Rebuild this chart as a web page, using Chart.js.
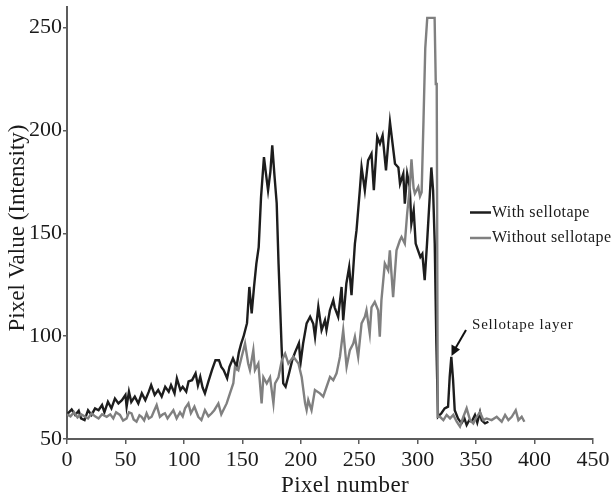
<!DOCTYPE html>
<html>
<head>
<meta charset="utf-8">
<script src="https://cdn.jsdelivr.net/npm/chart.js@4"></script>
<style>
  body { margin: 0; background: #fff; }
  #wrap { width: 612px; height: 499px; }
</style>
</head>
<body>
<div id="wrap"><canvas id="profile_chart" width="612" height="499"></canvas></div>
<script>
// Line profile readings (pixel number vs. intensity)
var withX = [0, 1, 4, 7, 10, 12, 15, 18, 21, 24, 27, 30, 32, 35, 38, 41, 44, 47, 50, 51, 53, 55, 58, 61, 64, 67, 70, 72, 75, 78,
    81, 84, 87, 89, 92, 94, 97, 99, 102, 104, 107, 110, 112, 114, 116, 118, 121, 124, 127, 130, 132, 134, 137, 139, 142, 145, 147, 149, 151, 154,
    156, 158, 160, 162, 164, 166, 168.5, 170, 172, 174, 175.6, 177.5, 179.4, 181, 183.6, 185, 187, 190, 192.7, 195, 198.4, 199.8, 202, 205, 208, 210.7, 212.2, 215, 217.8, 220.7,
    222, 224.9, 227.8, 229, 232, 234.9, 236.3, 239, 241.4, 243.4, 246.3, 247.7, 250.5, 252, 254.8, 257.6, 260.5, 262.5, 265.4, 267.7, 270, 272.9, 276.3, 280.6, 283.5, 284.9, 287.7, 289, 291, 293.2,
    294.6, 296.6, 298.3, 300.3, 302.3, 304, 306, 308, 310.3, 311.7, 313.2, 314.6, 316, 317.4, 320.3, 323.1, 326, 327.4, 328.8, 330.3, 331.7, 334.5, 337.5, 340, 341.9, 344, 346.2, 349, 351, 353.3,
    354.8, 357.6, 360.5];
var withY = [61.5, 62.5, 64.4, 61.7, 63.7, 60, 59.2, 64, 61.7, 64.9, 64, 66.5, 63, 68.1, 64.9, 69.7, 67.3, 68.9, 71.4, 65.7, 73, 68, 70.6, 67.3, 72.2, 68.9, 73, 76.2, 71.4, 73.8,
    70.6, 75.4, 73, 76.2, 72.2, 79.5, 73.8, 75.4, 73, 78, 78.6, 81.9, 76, 80.2, 75, 72.2, 78, 83.5, 88.3, 88.3, 85, 83.5, 79.5, 85.1, 89.2, 85, 92, 96.4, 99.7, 106.3,
    123.9, 111, 124, 135.3, 143.3, 167.6, 187, 180, 170.9, 180, 192.7, 178, 164.6, 135, 94.8, 77, 75.4, 82, 88.3, 92, 96.6, 86.9, 96.4, 106.2, 109.4, 106, 99.7, 114.2, 102.9, 107.7,
    103, 112.6, 117.5, 114, 109.4, 123.9, 107.7, 125.6, 133.6, 119.9, 145, 151.5, 170.9, 182.2, 170.9, 185.4, 188.7, 171, 196.8, 193.5, 197.6, 180.6, 204, 183.8, 182, 174, 179, 164.4, 179, 172.5,
    154.7, 161.2, 145, 141.7, 138.5, 140, 127.2, 145, 167.6, 182, 170.9, 145, 96.4, 60.8, 62.5, 64.9, 65.7, 80.2, 89.9, 78.6, 64, 60, 57.6, 60, 56.8, 59, 58.4, 61.7, 58, 63,
    59, 57.6, 58.4];

var withoutX = [0, 3, 6, 9, 12, 15, 18, 21, 24, 27, 30, 34, 37, 39.6, 42, 45.3, 48, 51, 53, 55.2, 57, 59.5, 62, 63.8, 66, 68.1, 70, 72.4, 74, 76.7,
    79.5, 82, 83.8, 86, 88.1, 91, 93.8, 96.7, 99, 101, 103.9, 106, 109, 112.3, 115, 118, 121, 123.8, 126, 129.5, 132, 133.7, 136.6, 139.4, 142.3, 143.7, 146.6, 149.4, 152.3, 155,
    156.5, 159.4, 160.8, 163.7, 166.5, 168, 170.9, 173.7, 176.6, 178, 180.9, 183.8, 186.6, 189.4, 193.7, 198, 200.8, 203.7, 205, 206.4, 209.2, 212.1, 216.4, 219.2, 222.1, 225, 227.8, 230.6, 233.5, 236.3,
    239.2, 242, 244.9, 246.3, 249.1, 252, 254.8, 256.2, 259, 260.5, 263.3, 266.2, 267.6, 269, 271.9, 274.8, 276.2, 279, 281.9, 284.8, 286.2, 289, 291, 293.3, 294.7, 296.5, 297.6, 300.5, 302, 303.4,
    305, 306.5, 308.2, 314.5, 315.5, 316.3, 317.2, 319.1, 322, 324.8, 327.7, 330.5, 333.4, 336.2, 339.1, 341.9, 344.8, 347.6, 350.5, 353.3, 356.2, 359, 363.3, 367.6, 371.9, 374.8, 377.6, 380.5, 383.9, 386.2,
    389, 391.3];
var withoutY = [62, 61, 63, 60.5, 62, 61, 60, 62.5, 61, 60, 62, 60.8, 62, 60, 63, 61.7, 59, 60, 63, 62.5, 59.5, 58.4, 61.5, 60.8, 59, 62.5, 60, 60.8, 63, 66.5,
    60.8, 62, 62.5, 60, 61.7, 64, 60, 63, 61, 64.9, 67.3, 62.5, 65.7, 60.8, 59.2, 64, 61, 62.5, 64, 67.3, 62, 64, 67.3, 72.2, 77.1, 85.1, 83.5, 89.9, 96.4, 86.7,
    83.5, 93.2, 83.5, 86.7, 67.3, 80, 77, 80, 67.3, 77, 80, 88.3, 91.5, 86.7, 90, 86.7, 80, 67.3, 64.1, 68.9, 64, 73.8, 72.2, 70.6, 75.4, 80.2, 78.6, 81.9, 89.9, 102.9,
    85.1, 93.2, 96.4, 99.7, 89.9, 106.2, 109.4, 112.6, 101.3, 114, 116.6, 112.6, 99.7, 117.5, 135.3, 132, 141.7, 119, 141.7, 146.6, 148.2, 145, 159.5, 172.5, 186, 172, 169.3, 172.5, 168, 170,
    205, 240, 254.7, 254.7, 222.6, 222.6, 60.8, 60.8, 59.2, 61.7, 60, 61.7, 58.4, 56, 60.8, 64.9, 59.2, 57.6, 60.8, 63, 59.2, 60, 59.2, 60.8, 58.4, 61.7, 59.2, 60.8, 64, 59.2,
    60.8, 58.4];

var xTicks = [0, 50, 100, 150, 200, 250, 300, 350, 400, 450];
var yTicks = [50, 100, 150, 200, 250];
var seriesNames = ['With sellotape', 'Without sellotape'];

var serif = '"Liberation Serif", "Times New Roman", serif';
var darkColor = '#1d1d1d';
var greyColor = '#808080';
var axisColor = '#5c5c5c';

function toPoints(xs, ys) {
    return xs.map(function (x, i) { return { x: x, y: ys[i] }; });
}

// legend, annotation arrow and axis titles drawn on top
var extrasPlugin = {
    id: 'extras',
    afterDraw: function (chart) {
        var ctx = chart.ctx;
        ctx.save();
        // legend
        var colors = [darkColor, greyColor];
        var rows = [212.5, 238];
        ctx.font = '16px ' + serif;
        ctx.letterSpacing = '0.4px';
        ctx.textBaseline = 'middle';
        ctx.textAlign = 'left';
        for (var i = 0; i < 2; i++) {
            ctx.strokeStyle = colors[i];
            ctx.lineWidth = 2.5;
            ctx.beginPath();
            ctx.moveTo(470, rows[i]);
            ctx.lineTo(491, rows[i]);
            ctx.stroke();
            ctx.fillStyle = '#1a1a1a';
            ctx.fillText(seriesNames[i], 492, rows[i]);
        }
        // annotation
        ctx.font = '15px ' + serif;
        ctx.letterSpacing = '0.8px';
        ctx.fillStyle = '#1a1a1a';
        ctx.fillText('Sellotape layer', 472, 325);
        ctx.strokeStyle = '#111';
        ctx.lineWidth = 2;
        ctx.beginPath();
        ctx.moveTo(466, 330);
        ctx.lineTo(455, 349);
        ctx.stroke();
        ctx.fillStyle = '#111';
        ctx.beginPath();
        ctx.moveTo(451.5, 356);
        ctx.lineTo(451.5, 344.5);
        ctx.lineTo(460, 349.5);
        ctx.closePath();
        ctx.fill();
        // axis titles
        ctx.font = '23px ' + serif;
        ctx.letterSpacing = '0.4px';
        ctx.fillStyle = '#1a1a1a';
        ctx.textAlign = 'center';
        ctx.fillText('Pixel number', 345, 486);
        ctx.letterSpacing = '0px';
        ctx.translate(18, 228);
        ctx.rotate(-Math.PI / 2);
        ctx.fillText('Pixel Value (Intensity)', 0, 0);
        ctx.restore();
    }
};

var profile_ctx = document.getElementById('profile_chart');

var profile_chart = new Chart(profile_ctx, {
    type: 'line',
    data: {
        datasets: [{
            label: seriesNames[0],
            data: toPoints(withX, withY),
            borderColor: darkColor,
            borderWidth: 2.4,
            pointRadius: 0,
            tension: 0,
            order: 2
        }, {
            label: seriesNames[1],
            data: toPoints(withoutX, withoutY),
            borderColor: greyColor,
            borderWidth: 2.4,
            pointRadius: 0,
            tension: 0,
            order: 1
        }]
    },
    options: {
        responsive: false,
        animation: false,
        layout: { padding: { top: 7, right: 19, left: 0, bottom: 0 } },
        plugins: {
            legend: { display: false },
            tooltip: { enabled: false }
        },
        scales: {
            x: {
                type: 'linear',
                min: 0,
                max: 450,
                afterBuildTicks: function (scale) {
                    scale.ticks = xTicks.map(function (v) { return { value: v }; });
                },
                afterFit: function (scale) {
                    scale.height = 60;
                    scale.paddingLeft = 0;
                    scale.paddingRight = 0;
                },
                border: { color: axisColor, width: 2 },
                grid: { drawOnChartArea: false, color: axisColor, tickLength: 5, lineWidth: 1.5 },
                ticks: { color: '#1a1a1a', padding: 3, maxRotation: 0, font: { family: serif, size: 22 } }
            },
            y: {
                min: 50,
                max: 260,
                afterBuildTicks: function (scale) {
                    scale.ticks = yTicks.map(function (v) { return { value: v }; });
                },
                afterFit: function (scale) {
                    scale.width = 67;
                    scale.paddingTop = 0;
                    scale.paddingBottom = 0;
                },
                border: { color: axisColor, width: 2 },
                grid: { drawOnChartArea: false, color: axisColor, tickLength: 4, lineWidth: 1.5 },
                ticks: { color: '#1a1a1a', padding: 1, font: { family: serif, size: 22 } }
            }
        }
    },
    plugins: [extrasPlugin]
});
</script>
</body>
</html>
